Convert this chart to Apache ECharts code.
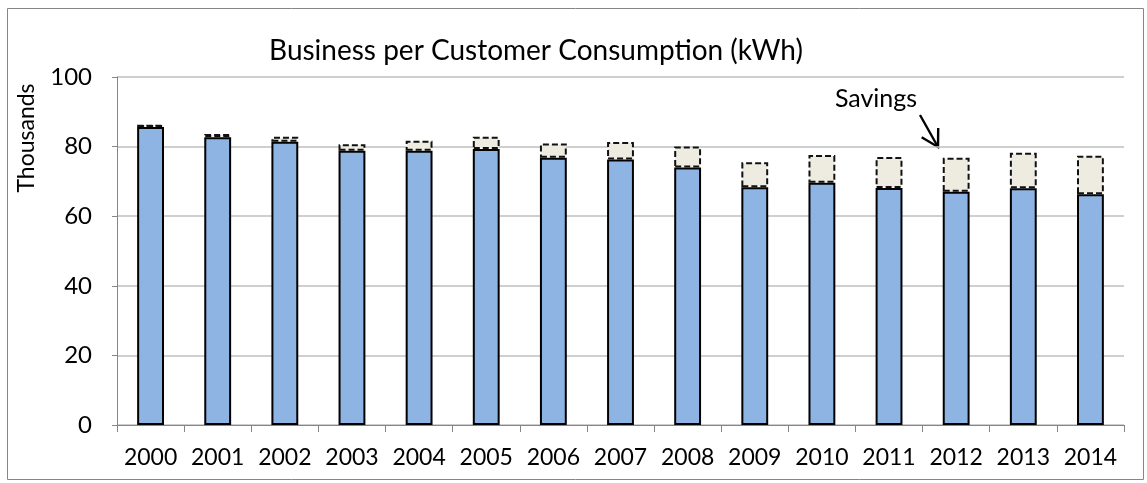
<!DOCTYPE html>
<html>
<head>
<meta charset="utf-8">
<script src="https://cdn.jsdelivr.net/npm/echarts@6/dist/echarts.min.js"></script>
<style>
html,body{margin:0;padding:0;background:#fff;}
#chart{width:1147px;height:483px;}
</style>
</head>
<body>
<div id="chart"></div>
<script>
const years = ['2000','2001','2002','2003','2004','2005','2006','2007','2008','2009','2010','2011','2012','2013','2014'];
const consumption = [85.6, 82.7, 81.4, 78.8, 78.8, 79.3, 76.8, 76.3, 74.0, 68.3, 69.6, 68.1, 67.0, 68.0, 66.3];
const savings = [0.7, 0.9, 1.4, 1.9, 2.9, 3.5, 4.1, 5.0, 6.0, 7.2, 8.0, 8.9, 9.8, 10.2, 11.1];
const yTicks = [0, 20, 40, 60, 80, 100];

const FONT = 'Lato';
const chart = echarts.init(document.getElementById('chart'), null, {renderer: 'canvas'});

// arrow head geometry for the "Savings" annotation
const ax0 = 920, ay0 = 115, ax1 = 938, ay1 = 147;
const dx = ax0 - ax1, dy = ay0 - ay1, len = Math.hypot(dx, dy);
const ux = dx / len, uy = dy / len, hl = 19, th = Math.PI / 6;
function rot(a) { return [ax1 + hl * (ux * Math.cos(a) - uy * Math.sin(a)), ay1 + hl * (ux * Math.sin(a) + uy * Math.cos(a))]; }

chart.setOption({
  animation: false,
  backgroundColor: '#ffffff',
  title: {
    text: 'Business per Customer Consumption (kWh)',
    left: 531,
    top: 32,
    textAlign: 'center',
    textStyle: {fontFamily: FONT, fontSize: 28, fontWeight: 'normal', color: '#000'}
  },
  grid: {left: 117, right: 23, top: 77, bottom: 58, containLabel: false},
  xAxis: {
    type: 'category',
    data: years,
    axisLine: {lineStyle: {color: '#868686', width: 1}},
    axisTick: {show: true, interval: 0, length: 7, inside: false, lineStyle: {color: '#868686'}},
    axisLabel: {interval: 0, hideOverlap: false, fontFamily: FONT, fontSize: 23, color: '#000', margin: 21}
  },
  yAxis: {
    type: 'value',
    min: yTicks[0],
    max: yTicks[yTicks.length - 1],
    interval: 20,
    axisLine: {show: true, lineStyle: {color: '#868686', width: 1}},
    axisTick: {show: true, length: 5, lineStyle: {color: '#868686'}},
    splitLine: {lineStyle: {color: '#BFBFBF', width: 1.5}},
    axisLabel: {fontFamily: FONT, fontSize: 24, color: '#000', margin: 25}
  },
  series: [
    {
      name: 'Consumption',
      type: 'bar',
      stack: 'total',
      data: consumption,
      barWidth: '40%',
      itemStyle: {color: '#8EB4E3', borderColor: '#000', borderWidth: 2}
    },
    {
      name: 'Savings',
      type: 'bar',
      stack: 'total',
      data: savings,
      barWidth: '40%',
      itemStyle: {color: '#EEECE1', borderColor: '#111', borderWidth: 2, borderType: [6, 3]}
    }
  ],
  graphic: [
    {
      type: 'rect',
      shape: {x: 7.5, y: 8.5, width: 1136, height: 471},
      style: {fill: 'none', stroke: '#868686', lineWidth: 1},
      silent: true, z: -1
    },
    {
      type: 'text',
      x: 27, y: 138,
      rotation: Math.PI / 2,
      style: {text: 'Thousands', fontFamily: FONT, fontSize: 23, fill: '#000', align: 'center', verticalAlign: 'middle'}
    },
    {
      type: 'text',
      x: 876, y: 99,
      style: {text: 'Savings', fontFamily: FONT, fontSize: 25, fill: '#000', align: 'center', verticalAlign: 'middle'}
    },
    {
      type: 'line',
      shape: {x1: ax0, y1: ay0, x2: ax1, y2: ay1},
      style: {stroke: '#000', lineWidth: 2.4}
    },
    {
      type: 'polyline',
      shape: {points: [rot(th), [ax1, ay1], rot(-th)]},
      style: {stroke: '#000', lineWidth: 2.4, fill: 'none'}
    }
  ]
});
</script>
</body>
</html>
